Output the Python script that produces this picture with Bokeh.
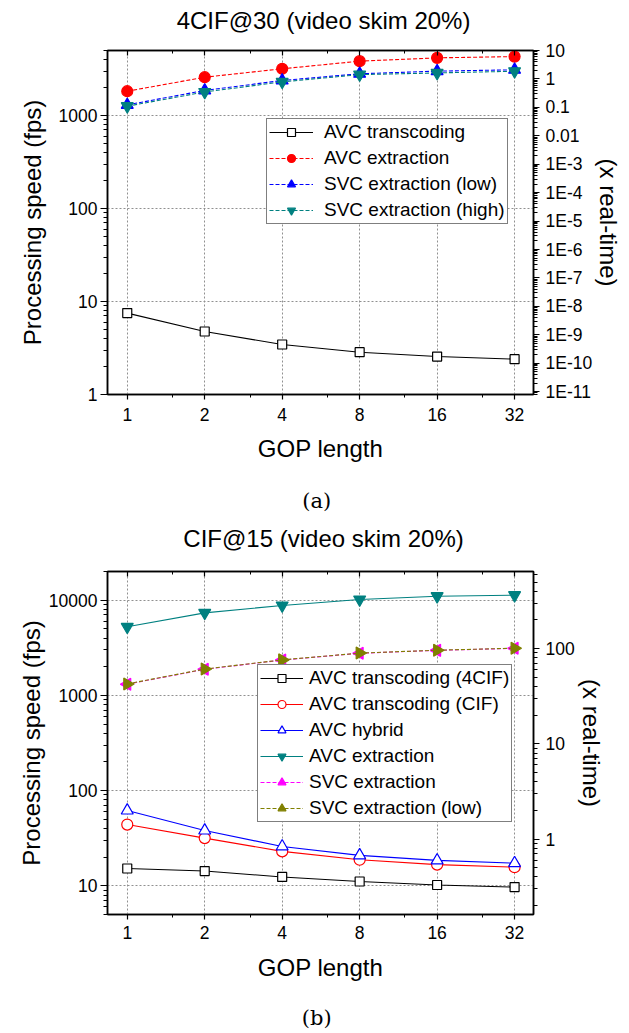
import math
from bokeh.plotting import figure
from bokeh.models import (Range1d, LogScale, LogAxis, FixedTicker, Label,
                          Legend, LegendItem, CustomJSTickFormatter)
from bokeh.layouts import column
from bokeh.embed import file_html
from bokeh.resources import INLINE

# ---------------- data ----------------
gop = [1, 2, 4, 8, 16, 32]
gop_labels = ["1", "2", "4", "8", "16", "32"]

# (a) 4CIF@30 (video skim 20%)  -- processing speed in fps
a_title = "4CIF@30 (video skim 20%)"
a_avc_transcoding = [7.5, 4.76, 3.45, 2.85, 2.56, 2.40]
a_avc_extraction = [1825, 2580, 3180, 3840, 4170, 4300]
a_svc_low = [1300, 1860, 2380, 2810, 3000, 3100]
a_svc_high = [1260, 1790, 2300, 2750, 2870, 2990]
a_left_ticks = [1, 10, 100, 1000]
a_left_labels = ["1", "10", "100", "1000"]
a_right_ticks = [10, 1, 0.1, 0.01, 1e-3, 1e-4, 1e-5, 1e-6, 1e-7, 1e-8, 1e-9, 1e-10, 1e-11]
a_right_labels = ["10", "1", "0.1", "0.01", "1E-3", "1E-4", "1E-5", "1E-6", "1E-7",
                  "1E-8", "1E-9", "1E-10", "1E-11"]

# (b) CIF@15 (video skim 20%)
b_title = "CIF@15 (video skim 20%)"
b_avc_trans_4cif = [15.2, 14.3, 12.4, 11.1, 10.2, 9.7]
b_avc_trans_cif = [44.0, 31.7, 23.0, 18.8, 16.7, 15.7]
b_avc_hybrid = [61.8, 38.1, 25.9, 20.9, 18.5, 17.3]
b_avc_extraction = [5250, 7360, 8800, 10170, 11010, 11280]
b_svc_extraction = [1310, 1880, 2350, 2770, 2970, 3120]
b_svc_low = [1320, 1890, 2360, 2780, 2980, 3130]
b_left_ticks = [10, 100, 1000, 10000]
b_left_labels = ["10", "100", "1000", "10000"]
b_right_ticks = [1, 10, 100]
b_right_labels = ["1", "10", "100"]

FONT = "Liberation Sans"
W = 629


def fmt(tv, lv):
    return CustomJSTickFormatter(args=dict(tv=tv, lv=lv), code="""
        let best = ''; let bd = 1e9;
        for (let i = 0; i < tv.length; i++) {
            const d = Math.abs(Math.log(tv[i]) - Math.log(tick));
            if (d < bd) { bd = d; best = lv[i]; }
        }
        return bd < 1e-6 ? best : '';
    """)


def minor_dec(lo_exp, hi_exp):
    return [m * 10 ** e for e in range(lo_exp, hi_exp + 1) for m in range(2, 10)]


def style_axis(ax):
    ax.axis_line_color = "black"
    ax.axis_line_width = 1.5
    ax.major_tick_line_color = "black"
    ax.minor_tick_line_color = "black"
    ax.major_tick_line_width = 1.2
    ax.minor_tick_line_width = 1
    ax.major_label_text_font = FONT
    ax.major_label_text_font_size = "17.5px"
    ax.major_label_text_color = "black"
    ax.axis_label_text_font = FONT
    ax.axis_label_text_font_size = "24px"
    ax.axis_label_text_font_style = "normal"
    ax.axis_label_text_color = "black"


def text_fig(height, texts):
    """A blank strip that only carries centred texts: (text, x, y_from_top, font, size)."""
    t = figure(width=W, height=height, x_range=Range1d(0, W), y_range=Range1d(0, height),
               output_backend="svg", toolbar_location=None, min_border=0,
               x_axis_location=None, y_axis_location=None)
    t.outline_line_color = None
    t.grid.visible = False
    t.background_fill_color = "white"
    t.border_fill_color = "white"
    for txt, x, yt, font, size in texts:
        t.add_layout(Label(x=x, y=height - yt, text=txt, text_align="center",
                           text_baseline="middle", text_font=font, text_font_size=size,
                           text_color="black"))
    return t


def make_fig(height, b_top, b_bottom, y_lo, y_hi, left_ticks, left_labels,
             left_minor, rt_lo, rt_hi, rt_ticks, rt_labels, rt_minor, ylab_standoff,
             rlab_standoff, xlab_standoff, xtick_standoff):
    p = figure(width=W, height=height, x_axis_type="log", y_axis_type="log",
               x_range=Range1d(0.838, 37.9), y_range=Range1d(y_lo, y_hi),
               output_backend="svg", toolbar_location=None,
               min_border_left=107, min_border_right=96,
               min_border_top=b_top, min_border_bottom=b_bottom)
    p.background_fill_color = "white"
    p.border_fill_color = "white"
    p.outline_line_color = "black"
    p.outline_line_width = 1.5

    p.extra_y_ranges = {"rt": Range1d(rt_lo, rt_hi)}
    p.extra_y_scales = {"rt": LogScale()}

    xt = FixedTicker(ticks=gop, minor_ticks=[1.5, 3, 6, 12, 24])
    xa = p.xaxis[0]
    xa.ticker = xt
    xa.formatter = fmt(gop, gop_labels)
    xa.axis_label = "GOP length"
    style_axis(xa)
    xa.major_tick_out = 5
    xa.major_tick_in = 0
    xa.minor_tick_out = 3
    xa.minor_tick_in = 0
    xa.major_label_standoff = xtick_standoff
    xa.axis_label_standoff = xlab_standoff

    ya = p.yaxis[0]
    ya.ticker = FixedTicker(ticks=left_ticks, minor_ticks=left_minor)
    ya.formatter = fmt(left_ticks, left_labels)
    ya.axis_label = "Processing speed (fps)"
    style_axis(ya)
    ya.major_tick_out = 7
    ya.major_tick_in = 0
    ya.minor_tick_out = 4
    ya.minor_tick_in = 0
    ya.major_label_standoff = 3
    ya.axis_label_standoff = ylab_standoff

    ra = LogAxis(y_range_name="rt", ticker=FixedTicker(ticks=rt_ticks, minor_ticks=rt_minor),
                 formatter=fmt(rt_ticks, rt_labels), axis_label="(x real-time)")
    style_axis(ra)
    ra.major_tick_out = 6
    ra.major_tick_in = 0
    ra.minor_tick_out = 4
    ra.minor_tick_in = 0
    ra.major_label_standoff = 6
    ra.axis_label_standoff = rlab_standoff
    p.add_layout(ra, "right")

    ta = LogAxis(ticker=xt, formatter=CustomJSTickFormatter(code="return '';"))
    style_axis(ta)
    ta.major_label_standoff = 0
    ta.major_tick_in = 5
    ta.major_tick_out = 0
    ta.minor_tick_in = 3
    ta.minor_tick_out = 0
    p.add_layout(ta, "above")

    for g in (p.xgrid[0], p.ygrid[0]):
        g.grid_line_color = "#909090"
        g.grid_line_dash = "2 2"
        g.grid_line_width = 1
    return p


def series(p, y, color, marker, size, dash, fill, angle=0.0):
    r1 = p.line(gop, y, line_color=color, line_width=1.1, line_dash=dash)
    r2 = p.scatter(gop, y, marker=marker, size=size, line_color=color,
                   fill_color=fill, line_width=1.2, angle=angle, angle_units="rad")
    return [r1, r2]


def legend(p, items, x, y, standoff, gw):
    lg = Legend(items=[LegendItem(label=l, renderers=r) for l, r in items],
                location=(x, y), border_line_color="black", border_line_width=1.2,
                background_fill_color="white", background_fill_alpha=1.0,
                label_text_font=FONT, label_text_font_size="19px", label_text_color="black",
                padding=2, spacing=4, label_height=20, glyph_height=20, glyph_width=gw,
                label_standoff=standoff, margin=0)
    p.add_layout(lg, "center")


# ---------------- (a) ----------------
head_a = text_fig(38, [(a_title, 319, 20, FONT, "24px")])
pa = make_fig(436, 12, 80, 1, 5000,
              a_left_ticks, a_left_labels, minor_dec(0, 3),
              10 ** -11.1, 10, a_right_ticks, a_right_labels, minor_dec(-12, 0),
              10, 0, 11, 8)
ia = [("AVC transcoding", series(pa, a_avc_transcoding, "black", "square", 9, "solid", "white")),
      ("AVC extraction", series(pa, a_avc_extraction, "#ff0000", "circle", 11, "4 2", "#ff0000")),
      ("SVC extraction (low)", series(pa, a_svc_low, "#0000ff", "triangle", 12, "4 2", "#0000ff")),
      ("SVC extraction (high)", series(pa, a_svc_high, "#008080", "inverted_triangle", 12, "4 2", "#008080"))]
legend(pa, ia, 159, 170, 11, 44)

mid = text_fig(85, [("(a)", 309, 26, "DejaVu Serif", "21px"),
                    (b_title, 319, 64, FONT, "24px")])

# ---------------- (b) ----------------
pb = make_fig(435, 12, 80, 5, 20000,
              b_left_ticks, b_left_labels, minor_dec(0, 4),
              5 / 31.0, 20000 / 31.0, b_right_ticks, b_right_labels, minor_dec(-1, 2),
              1, 0, 12, 6)
ib = [("AVC transcoding (4CIF)", series(pb, b_avc_trans_4cif, "black", "square", 9, "solid", "white")),
      ("AVC transcoding (CIF)", series(pb, b_avc_trans_cif, "#ff0000", "circle", 11, "solid", "white")),
      ("AVC hybrid", series(pb, b_avc_hybrid, "#0000ff", "triangle", 12, "solid", "white")),
      ("AVC extraction", series(pb, b_avc_extraction, "#008080", "inverted_triangle", 12, "solid", "#008080")),
      ("SVC extraction", series(pb, b_svc_extraction, "#ff00ff", "triangle", 12, "4 2", "#ff00ff", math.pi / 2)),
      ("SVC extraction (low)", series(pb, b_svc_low, "#808000", "triangle", 12, "4 2", "#808000", -math.pi / 2))]
legend(pb, ib, 150, 92, 6, 43)

foot = text_fig(39, [("(b)", 309, 23, "DejaVu Serif", "21px")])

layout = column(head_a, pa, mid, pb, foot, spacing=0)
open("out.html", "w").write(file_html(layout, INLINE))
